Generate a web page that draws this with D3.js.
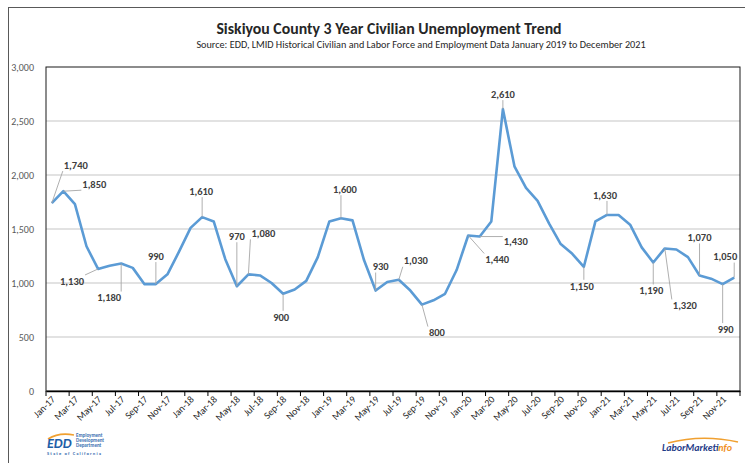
<!DOCTYPE html>
<html>
<head>
<meta charset="utf-8">
<script src="https://cdn.jsdelivr.net/npm/d3@7"></script>
<style>
  body { margin: 0; background: #fff; }
  text { font-family: Carlito, Lato, "Liberation Sans", sans-serif; }
</style>
</head>
<body>
<div id="container"></div>
<script>
// Monthly civilian unemployment, Siskiyou County, Jan-17 .. Dec-21
var years = ['17', '18', '19', '20', '21'],
    monthNames = ['Jan','Feb','Mar','Apr','May','Jun','Jul','Aug','Sep','Oct','Nov','Dec'];

var months = [];
years.forEach(function(y) {
  monthNames.forEach(function(m) { months.push(m + '-' + y); });
});

var unemployed = [
  1740, 1850, 1730, 1340, 1130, 1160, 1180, 1140,  990,  990, 1080, 1290,
  1510, 1610, 1570, 1220,  970, 1080, 1070, 1000,  900,  940, 1020, 1240,
  1570, 1600, 1580, 1210,  930, 1010, 1030,  930,  800,  840,  900, 1120,
  1440, 1430, 1570, 2610, 2080, 1880, 1760, 1550, 1360, 1270, 1150, 1570,
  1630, 1630, 1540, 1330, 1190, 1320, 1310, 1240, 1070, 1040,  990, 1050
];

var yTicks = [0, 500, 1000, 1500, 2000, 2500, 3000];

// which months carry a data label
var labelledMonths = ['Jan-17','Feb-17','May-17','Jul-17','Oct-17','Feb-18','May-18','Jun-18',
  'Sep-18','Feb-19','May-19','Jul-19','Sep-19','Jan-20','Feb-20','Apr-20','Nov-20','Jan-21',
  'May-21','Jun-21','Sep-21','Nov-21','Dec-21'];

// where each label sits relative to its point (layout only)
var labelOffsets = [
  [24,-38],[31,-7],[-26,12],[-12,34],[0,-28],[-1,-26],[0,-50],[15,-41],
  [-2,23],[4,-29],[5,-24],[17,-19],[15,28],[29,24],[36,5],[0,-15],[-2,19],[-2,-20],
  [-2,28],[20,57],[0,-38],[3,45],[-9,-21]
];

var W = 745, H = 463,
    plotL = 46, plotR = 740, plotT = 67, plotB = 391;

var svg = d3.select('#container').append('svg')
    .attr('width', W)
    .attr('height', H);

svg.append('rect').attr('width', W).attr('height', H).attr('fill', '#fff');

// outer chart frame (runs off the right/bottom of the picture)
svg.append('rect')
    .attr('x', 8.5).attr('y', 7.5)
    .attr('width', 800).attr('height', 500)
    .attr('fill', 'none')
    .attr('stroke', '#595959')
    .attr('stroke-width', 1);

svg.append('text')
    .attr('x', 389).attr('y', 34)
    .attr('text-anchor', 'middle')
    .style('font-size', '15.8px')
    .style('font-weight', 'bold')
    .attr('fill', '#262626')
    .text('Siskiyou County 3 Year Civilian Unemployment Trend');

svg.append('text')
    .attr('x', 421).attr('y', 47.5)
    .attr('text-anchor', 'middle')
    .style('font-size', '10.2px')
    .attr('fill', '#262626')
    .text('Source: EDD, LMID Historical Civilian and Labor Force and Employment Data January 2019 to December 2021');

var x = d3.scaleBand().domain(months).range([plotL, plotR]).paddingInner(0).paddingOuter(0),
    y = d3.scaleLinear().domain([0, 3000]).range([plotB, plotT]);

// gridlines
svg.append('g').selectAll('line')
    .data(yTicks.filter(function(d) { return d > 0 && d < 3000; }))
    .enter().append('line')
      .attr('x1', plotL).attr('x2', plotR)
      .attr('y1', function(d) { return y(d); })
      .attr('y2', function(d) { return y(d); })
      .attr('stroke', '#d9d9d9')
      .attr('stroke-width', 1.3);

// y axis labels
var yAxis = svg.append('g')
    .attr('transform', 'translate(' + (plotL - 9) + ',0)')
    .call(d3.axisLeft(y).tickValues(yTicks).tickSize(0).tickFormat(d3.format(',')));
yAxis.select('.domain').remove();
yAxis.selectAll('text')
    .style('font-size', '10px')
    .style('font-family', 'Carlito, Lato, "Liberation Sans", sans-serif')
    .attr('fill', '#595959');

// plot frame
svg.append('rect')
    .attr('x', plotL).attr('y', plotT)
    .attr('width', plotR - plotL).attr('height', plotB - plotT)
    .attr('fill', 'none')
    .attr('stroke', '#1a1a1a')
    .attr('stroke-width', 1);

// x axis: labels at every other month, ticks on category boundaries
var everyOther = months.filter(function(d, i) { return i % 2 === 0; });
var xAxis = svg.append('g')
    .attr('transform', 'translate(0,' + plotB + ')')
    .call(d3.axisBottom(x).tickValues(everyOther).tickSize(0).tickPadding(0));
xAxis.select('.domain').attr('stroke', '#000').attr('stroke-width', 1.3);
xAxis.selectAll('text')
    .style('font-size', '9.8px')
    .style('font-family', 'Carlito, Lato, "Liberation Sans", sans-serif')
    .attr('fill', '#262626')
    .attr('text-anchor', 'end')
    .attr('dy', 0)
    .attr('transform', 'translate(4,9) rotate(-45)');

svg.append('g').selectAll('line')
    .data(everyOther.map(function(d) { return x(d); }).concat([plotR]))
    .enter().append('line')
      .attr('x1', function(d) { return d; })
      .attr('x2', function(d) { return d; })
      .attr('y1', plotB).attr('y2', plotB + 5)
      .attr('stroke', '#000')
      .attr('stroke-width', 1);

var cx = function(i) { return x(months[i]) + x.bandwidth() / 2; };

// the series line
var line = d3.line()
    .x(function(d, i) { return cx(i); })
    .y(function(d) { return y(d); });

svg.append('path')
    .datum(unemployed)
    .attr('d', line)
    .attr('fill', 'none')
    .attr('stroke', '#5b9bd5')
    .attr('stroke-width', 2.6)
    .attr('stroke-linejoin', 'round');

// data labels with leader lines
var labels = labelledMonths.map(function(m, k) {
  var i = months.indexOf(m);
  return { px: cx(i), py: y(unemployed[i]), v: unemployed[i],
           tx: cx(i) + labelOffsets[k][0], ty: y(unemployed[i]) + labelOffsets[k][1] };
});

var fmt = d3.format(',');
labels.forEach(function(d) {
  var hw = d.v >= 1000 ? 13 : 9, hh = 6;
  var ex = Math.max(d.tx - hw, Math.min(d.px, d.tx + hw)),
      ey = Math.max(d.ty - hh, Math.min(d.py, d.ty + hh));
  if (Math.hypot(ex - d.px, ey - d.py) > 4) {
    svg.append('line')
        .attr('x1', d.px).attr('y1', d.py)
        .attr('x2', ex).attr('y2', ey)
        .attr('stroke', '#a6a6a6')
        .attr('stroke-width', 0.9);
  }
  svg.append('text')
      .attr('x', d.tx).attr('y', d.ty + 3.7)
      .attr('text-anchor', 'middle')
      .style('font-size', '10.5px')
      .style('font-weight', 'bold')
      .attr('fill', '#404040')
      .text(fmt(d.v));
});

// EDD logo (rough)
var edd = svg.append('g').attr('transform', 'translate(47,432)');
edd.append('path')
    .attr('d', 'M1,7 Q12,0 27,3')
    .attr('fill', 'none').attr('stroke', '#f0a030').attr('stroke-width', 1.6);
edd.append('text')
    .attr('x', 0).attr('y', 16)
    .style('font-size', '14px').style('font-weight', 'bold').style('font-style', 'italic')
    .attr('fill', '#1f5fa8')
    .text('EDD');
['Employment', 'Development', 'Department'].forEach(function(t, i) {
  edd.append('text')
      .attr('x', 29).attr('y', 5 + i * 5)
      .style('font-size', '5px').style('font-weight', 'bold')
      .attr('fill', '#3a6fb0')
      .text(t);
});
edd.append('text')
    .attr('x', 0).attr('y', 22.5)
    .style('font-size', '4.6px').style('font-weight', 'bold')
    .style('letter-spacing', '1.1px')
    .attr('fill', '#3a6fb0')
    .text('State of California');

// LaborMarketInfo logo (rough)
var lmi = svg.append('g').attr('transform', 'translate(662,437)');
lmi.append('path')
    .attr('d', 'M6,6 Q40,-3 76,5')
    .attr('fill', 'none').attr('stroke', '#f0a030').attr('stroke-width', 1.6);
var lmiText = lmi.append('text')
    .attr('x', 0).attr('y', 14)
    .style('font-size', '10px').style('font-weight', 'bold').style('font-style', 'italic');
lmiText.append('tspan').attr('fill', '#1f3c88').text('LaborMarket');
lmiText.append('tspan').attr('fill', '#f0901e').text('info');
</script>
</body>
</html>
